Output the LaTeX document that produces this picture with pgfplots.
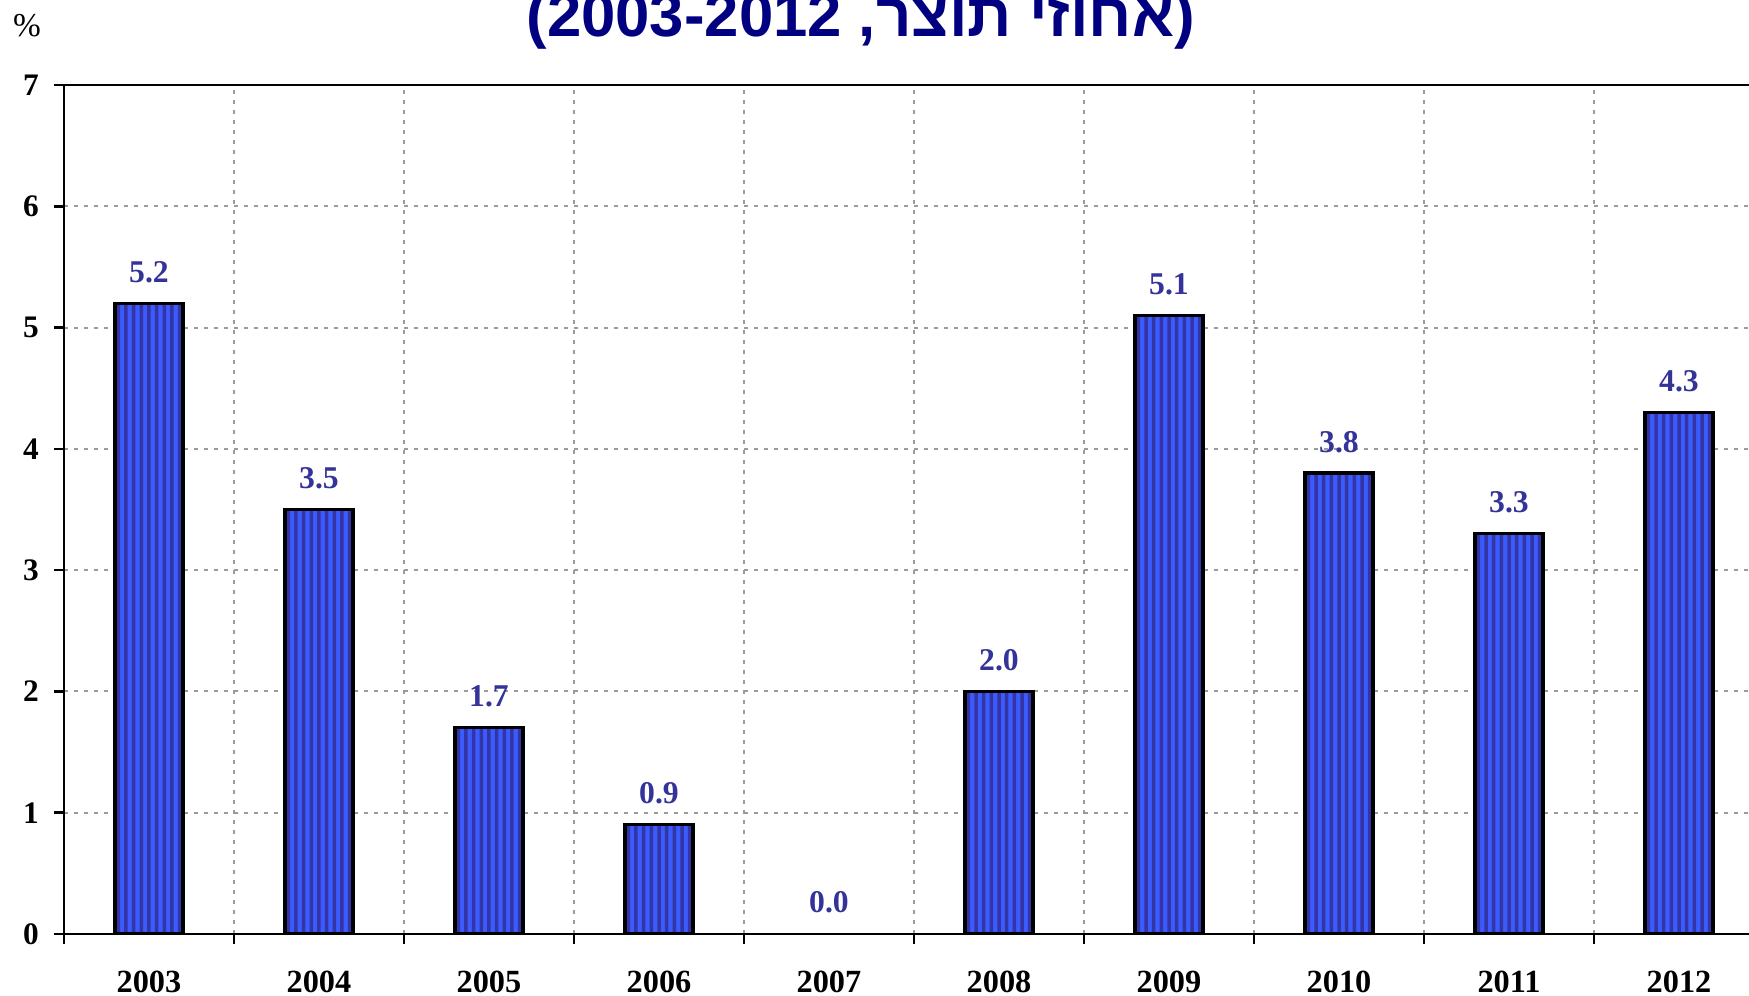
\documentclass[border=0pt]{standalone}
\usepackage{fontspec}
\setmainfont{Liberation Serif}
\newfontfamily\sansb{Liberation Sans}
\newfontfamily\hebfont[Script=Hebrew]{Liberation Sans}
\TeXXeTstate=1
\usepackage{pgfplots}
\pgfplotsset{compat=1.18}
\definecolor{barbright}{RGB}{58,92,255}
\definecolor{bardark}{RGB}{52,52,165}
\definecolor{labelblue}{RGB}{51,51,153}
\definecolor{titleblue}{RGB}{0,0,128}
\definecolor{gridgray}{RGB}{155,155,155}
\pgfplotstableread{
x y
0 5.2
1 3.5
2 1.7
3 0.9
4 0.0
5 2.0
6 5.1
7 3.8
8 3.3
9 4.3
}\datalabels
\pgfplotstableread{
x y
0 5.2
1 3.5
2 1.7
3 0.9
5 2.0
6 5.1
7 3.8
8 3.3
9 4.3
}\databars
\begin{document}
\begin{tikzpicture}
\begin{axis}[
  at={(19.2pt,18.6pt)}, anchor=south west,
  scale only axis, width=510pt, height=254.7pt,
  xmin=-0.5, xmax=9.5, ymin=0, ymax=7,
  xtick={-0.5,0.5,1.5,2.5,3.5,4.5,5.5,6.5,7.5,8.5,9.5},
  x tick label as interval,
  xticklabels={2003,2004,2005,2006,2007,2008,2009,2010,2011,2012},
  ytick={0,1,2,3,4,5,6,7},
  /pgf/number format/assume math mode=true,
  tick pos=left, tick align=outside,
  major tick length=3pt,
  tick style={black, line width=0.75pt},
  axis line style={black, line width=0.75pt},
  grid=major,
  grid style={gridgray, line width=0.6pt, dash pattern=on 1.3pt off 1.7pt},
  xticklabel style={font=\bfseries\fontsize{9.7}{10}\selectfont, anchor=base, yshift=-14.5pt},
  yticklabel style={font=\bfseries\fontsize{9.4}{10}\selectfont, xshift=-1pt},
  ybar, bar width=20.4pt, bar shift=0pt,
]
% bright base of each bar
\addplot[draw=none, fill=barbright, bar width=20.4pt, bar shift=0pt]
  table[x=x, y=y] {\databars};
% dark vertical stripes
\pgfplotsinvokeforeach{-9.2,-6.9,-4.6,-2.3,0,2.3,4.6,6.9,9.2}{
  \addplot[draw=none, fill=bardark, bar width=1.05pt, bar shift=#1pt]
    table[x=x, y=y] {\databars};
}
% black outline
\addplot[draw=black, line width=1pt, fill=none, bar width=20.4pt, bar shift=0pt]
  table[x=x, y=y] {\databars};
% value labels
\addplot[draw=none, fill=none, bar shift=0pt,
  nodes near coords={\pgfmathprintnumber[fixed,fixed zerofill,precision=1]{\pgfplotspointmeta}},
  every node near coord/.append style={font=\bfseries\fontsize{9.5}{10}\selectfont, text=labelblue, anchor=base, yshift=6.3pt, inner sep=0pt}]
  table[x=x, y=y] {\datalabels};
\end{axis}
\node[anchor=base, inner sep=0pt] at (8.1pt,287.7pt) {\fontsize{10}{12}\selectfont\%};
\node[anchor=base, inner sep=0pt, text=titleblue] at (258.2pt,287.7pt)
  {\fontsize{18.5}{22}\selectfont\sansb\bfseries (2003-2012 ,{\hebfont\bfseries\beginR אחוזי תוצר\endR})};
\pgfresetboundingbox
\path[use as bounding box] (0,0) rectangle (524.7pt,298.8pt);
\end{tikzpicture}
\end{document}
